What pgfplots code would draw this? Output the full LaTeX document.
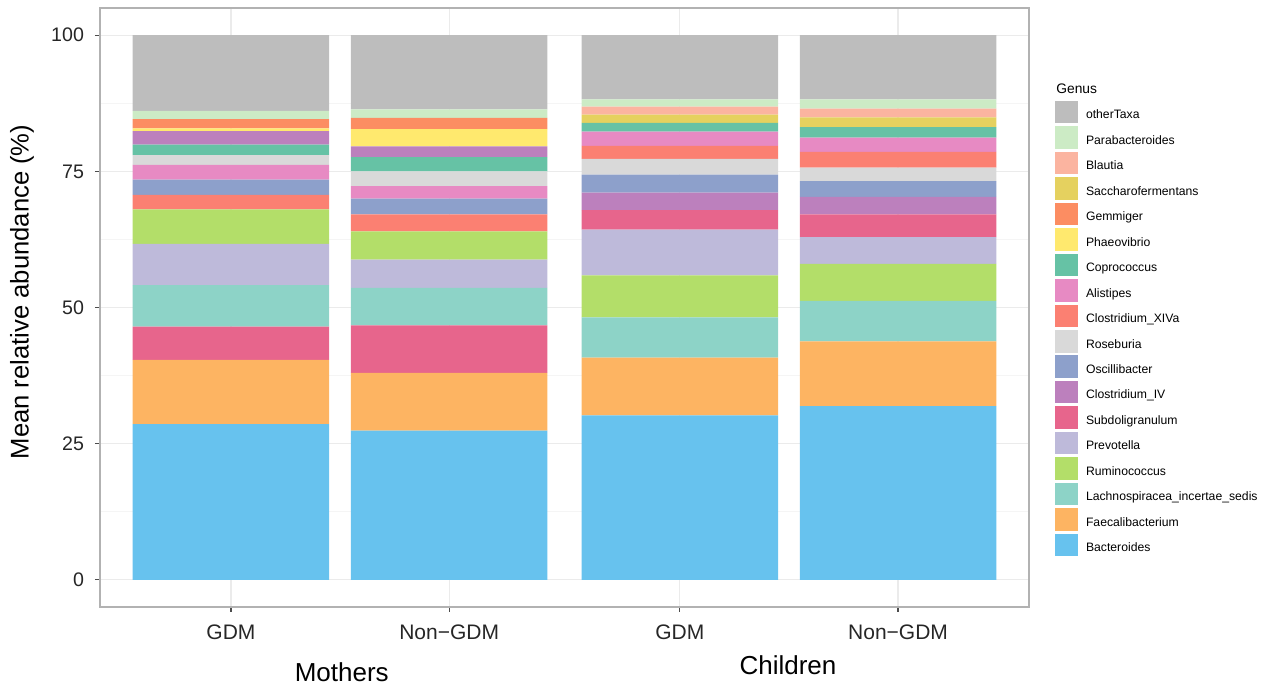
\documentclass[border=0pt]{standalone}
\usepackage{pgfplots}
\pgfplotsset{compat=1.18}
\usepackage{fontspec}
\setmainfont{Liberation Sans}
\definecolor{cOther}{HTML}{BDBDBD}
\definecolor{cParab}{HTML}{CCEBC5}
\definecolor{cBlaut}{HTML}{FBB4A0}
\definecolor{cSacch}{HTML}{E5D15F}
\definecolor{cGemm}{HTML}{FC8D62}
\definecolor{cPhaeo}{HTML}{FFE96E}
\definecolor{cCopro}{HTML}{66C2A5}
\definecolor{cAli}{HTML}{E78AC3}
\definecolor{cXIVa}{HTML}{FB8072}
\definecolor{cRos}{HTML}{D9D9D9}
\definecolor{cOsc}{HTML}{8DA0CB}
\definecolor{cCIV}{HTML}{BC80BD}
\definecolor{cSubd}{HTML}{E7658C}
\definecolor{cPrev}{HTML}{BEBADA}
\definecolor{cRum}{HTML}{B3DE69}
\definecolor{cLach}{HTML}{8DD3C7}
\definecolor{cFaec}{HTML}{FDB462}
\definecolor{cBact}{HTML}{67C2EE}
% mothers: coordinates at x=0 (GDM), x=1 (Non-GDM); children: x=2.057, x=3.057
\newcommand\mseg[3]{\addplot[fill=#1, draw=none, forget plot] coordinates {(0,#2) (1,#3) (2.057,0) (3.057,0)};}
\newcommand\cseg[3]{\addplot[fill=#1, draw=none, forget plot] coordinates {(0,0) (1,0) (2.057,#2) (3.057,#3)};}
\pgfplotsset{sq/.style={legend image code/.code={\path[use as bounding box, draw=none, fill=none] (0pt,0pt) rectangle (15.5pt,0pt); \path[##1] (0pt,-4.45pt) rectangle (11.5pt,6.85pt);}}}
\begin{document}
\begin{tikzpicture}
\begin{axis}[
  scale only axis, width=464.5pt, height=299.5pt,
  xmin=-0.6, xmax=3.657, ymin=-5, ymax=105,
  clip=false,
  ybar stacked, bar width=0.9,
  xtick={0,1,2.057,3.057}, xticklabels={GDM,Non−GDM,GDM,Non−GDM},
  ytick={0,25,50,75,100}, minor ytick={12.5,37.5,62.5,87.5},
  grid=both,
  major grid style={color=black!8, line width=0.6pt},
  minor grid style={color=black!4, line width=0.4pt},
  axis line style={color=black!30, line width=0.7pt},
  tick align=outside, major tick length=2.5pt, minor tick length=0pt,
  tick style={color=black!70, line width=0.6pt},
  tick pos=left,
  /pgf/number format/assume math mode=true,
  xticklabel style={font=\fontsize{10.5}{12}\selectfont, color=black!85, anchor=center, yshift=-10pt},
  yticklabel style={font=\fontsize{9.8}{12}\selectfont, color=black!85, anchor=east, xshift=-2pt},
  ylabel={Mean relative abundance (\%)},
  ylabel style={font=\fontsize{12.8}{15}\selectfont, at={(rel axis cs:0,0.526)}, anchor=center, yshift=39pt},
  legend cell align=left,
  legend style={at={(rel axis cs:1.028,0.8434)}, anchor=north west, draw=none, fill=none,
    inner sep=0pt, outer sep=0pt, row sep=0pt,
    font=\fontsize{6.1}{7}\selectfont,
    nodes={inner sep=0pt, outer sep=0pt, text height=8.55pt, text depth=4.18pt}},
]
% Mothers (bottom to top)
\mseg{cBact}{28.6}{27.4}
\mseg{cFaec}{11.8}{10.6}
\mseg{cSubd}{6.1}{8.7}
\mseg{cLach}{7.6}{6.9}
\mseg{cPrev}{7.6}{5.2}
\mseg{cRum}{6.3}{5.2}
\mseg{cXIVa}{2.7}{3.1}
\mseg{cOsc}{2.8}{2.9}
\mseg{cAli}{2.7}{2.3}
\mseg{cRos}{1.8}{2.7}
\mseg{cCopro}{1.9}{2.6}
\mseg{cCIV}{2.5}{2.0}
\mseg{cPhaeo}{0.5}{3.15}
\mseg{cGemm}{1.7}{2.05}
\mseg{cParab}{1.5}{1.6}
\mseg{cOther}{13.9}{13.6}
% Children (bottom to top)
\cseg{cBact}{30.2}{31.9}
\cseg{cFaec}{10.6}{11.9}
\cseg{cLach}{7.4}{7.4}
\cseg{cRum}{7.7}{6.8}
\cseg{cPrev}{8.4}{4.9}
\cseg{cSubd}{3.6}{4.2}
\cseg{cCIV}{3.2}{3.2}
\cseg{cOsc}{3.3}{2.9}
\cseg{cRos}{2.9}{2.5}
\cseg{cXIVa}{2.4}{2.9}
\cseg{cAli}{2.6}{2.6}
\cseg{cCopro}{1.6}{1.9}
\cseg{cSacch}{1.5}{1.8}
\cseg{cBlaut}{1.5}{1.6}
\cseg{cParab}{1.3}{1.7}
\cseg{cOther}{11.8}{11.8}
% legend
\addlegendimage{sq, fill=cOther, draw=none}\addlegendentry{otherTaxa}
\addlegendimage{sq, fill=cParab, draw=none}\addlegendentry{Parabacteroides}
\addlegendimage{sq, fill=cBlaut, draw=none}\addlegendentry{Blautia}
\addlegendimage{sq, fill=cSacch, draw=none}\addlegendentry{Saccharofermentans}
\addlegendimage{sq, fill=cGemm, draw=none}\addlegendentry{Gemmiger}
\addlegendimage{sq, fill=cPhaeo, draw=none}\addlegendentry{Phaeovibrio}
\addlegendimage{sq, fill=cCopro, draw=none}\addlegendentry{Coprococcus}
\addlegendimage{sq, fill=cAli, draw=none}\addlegendentry{Alistipes}
\addlegendimage{sq, fill=cXIVa, draw=none}\addlegendentry{Clostridium\_XIVa}
\addlegendimage{sq, fill=cRos, draw=none}\addlegendentry{Roseburia}
\addlegendimage{sq, fill=cOsc, draw=none}\addlegendentry{Oscillibacter}
\addlegendimage{sq, fill=cCIV, draw=none}\addlegendentry{Clostridium\_IV}
\addlegendimage{sq, fill=cSubd, draw=none}\addlegendentry{Subdoligranulum}
\addlegendimage{sq, fill=cPrev, draw=none}\addlegendentry{Prevotella}
\addlegendimage{sq, fill=cRum, draw=none}\addlegendentry{Ruminococcus}
\addlegendimage{sq, fill=cLach, draw=none}\addlegendentry{Lachnospiracea\_incertae\_sedis}
\addlegendimage{sq, fill=cFaec, draw=none}\addlegendentry{Faecalibacterium}
\addlegendimage{sq, fill=cBact, draw=none}\addlegendentry{Bacteroides}
\node[anchor=west, font=\fontsize{6.9}{8}\selectfont, inner sep=0pt] at (rel axis cs:1.029,0.866) {Genus};
\node[anchor=center, font=\fontsize{13}{15}\selectfont, inner sep=0pt] at (rel axis cs:0.2602,-0.1085) {Mothers};
\node[anchor=center, font=\fontsize{13}{15}\selectfont, inner sep=0pt] at (rel axis cs:0.7406,-0.0968) {Children};
\end{axis}
\pgfresetboundingbox
\path[use as bounding box] (-50pt,-38.5pt) rectangle (582pt,303.5pt);
\end{tikzpicture}
\end{document}
